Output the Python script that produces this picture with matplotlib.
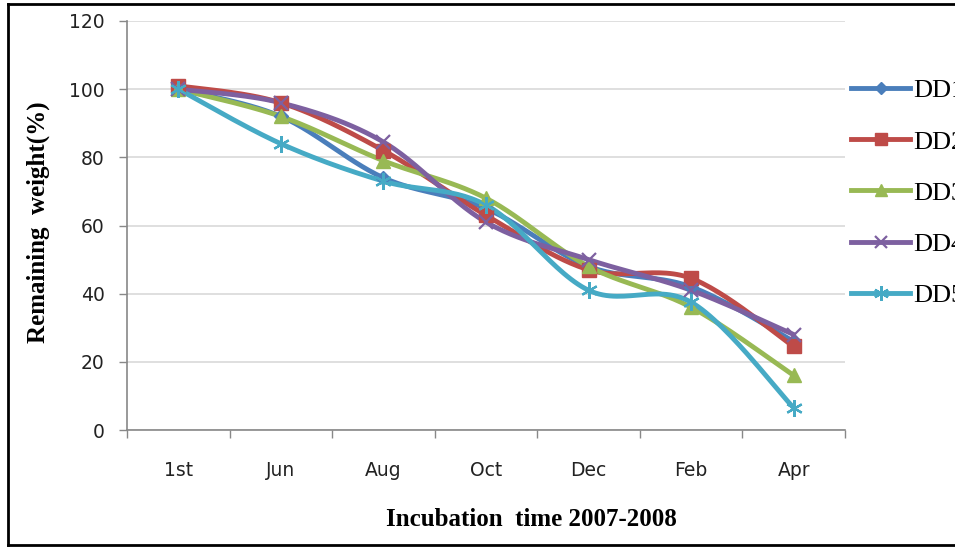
import numpy as np
import matplotlib
matplotlib.use("Agg")
import matplotlib.pyplot as plt
from matplotlib.lines import Line2D

months = ["1st", "Jun", "Aug", "Oct", "Dec", "Feb", "Apr"]
dd1 = [100, 92, 74, 65, 48, 42, 26]
dd2 = [101, 96, 82, 63, 47, 44.5, 24.5]
dd3 = [100, 92, 79, 68, 48, 36, 16]
dd4 = [100, 96, 84.5, 61, 50, 41, 28]
dd5 = [100, 84, 73, 66, 41, 37.5, 6.5]
series_names = ["DD1", "DD2", "DD3", "DD4", "DD5"]
y_ticks = [0, 20, 40, 60, 80, 100, 120]

colors = ["#4A7EBB", "#BE4B48", "#98B954", "#7D60A0", "#46AAC5"]
markers = ["D", "s", "^", "x", (6, 2, 0)]
msizes = [7, 10, 10, 10, 12]


def smooth(xs, ys, n=30):
    """Catmull-Rom style smoothing via cubic Bezier segments."""
    xs = np.asarray(xs, float)
    ys = np.asarray(ys, float)
    px = np.concatenate([[xs[0]], xs, [xs[-1]]])
    py = np.concatenate([[ys[0]], ys, [ys[-1]]])
    outx, outy = [], []
    t = np.linspace(0, 1, n)
    for i in range(1, len(px) - 2):
        p0 = np.array([px[i], py[i]])
        p3 = np.array([px[i + 1], py[i + 1]])
        c1 = p0 + (np.array([px[i + 1], py[i + 1]]) - np.array([px[i - 1], py[i - 1]])) / 6
        c2 = p3 - (np.array([px[i + 2], py[i + 2]]) - np.array([px[i], py[i]])) / 6
        b = ((1 - t) ** 3)[:, None] * p0 + (3 * (1 - t) ** 2 * t)[:, None] * c1 \
            + (3 * (1 - t) * t ** 2)[:, None] * c2 + (t ** 3)[:, None] * p3
        outx.extend(b[:, 0])
        outy.extend(b[:, 1])
    return np.array(outx), np.array(outy)


fig = plt.figure(figsize=(9.55, 5.47), dpi=100)
ax = fig.add_axes([127 / 955, 1 - 430 / 547, (845 - 127) / 955, (430 - 21) / 547])

x = np.arange(len(months))
handles = []
for vals, c, m, ms, name in zip([dd1, dd2, dd3, dd4, dd5], colors, markers, msizes, series_names):
    sx, sy = smooth(x, vals)
    ax.plot(sx, sy, color=c, lw=3.5, solid_capstyle="round", zorder=3)
    mew = 1.6 if m in ("x", (6, 2, 0)) else 1
    ax.plot(x, vals, linestyle="none", marker=m, markersize=ms, color=c,
            markeredgecolor=c, markeredgewidth=mew, zorder=4)
    handles.append(Line2D([], [], color=c, lw=3.5, marker=m, markersize=ms * 0.9,
                          markeredgecolor=c, markeredgewidth=mew, label=name))

ax.set_xlim(-0.5, len(months) - 0.5)
ax.set_ylim(0, 120)
ax.set_yticks(y_ticks)
ax.set_xticks(x)
ax.set_xticklabels(months)
ax.set_xticks(np.arange(-0.5, len(months)), minor=True)
ax.tick_params(axis="x", which="major", length=0, pad=22, labelsize=13.5)
ax.tick_params(axis="x", which="minor", length=6, direction="out", color="#888888", width=1)
ax.tick_params(axis="y", length=6, direction="out", color="#888888", width=1, labelsize=13.5, pad=10)
for lab in ax.get_xticklabels() + ax.get_yticklabels():
    lab.set_fontfamily(["DejaVu Sans"])
    lab.set_color("#222222")

ax.yaxis.grid(True, color="#d9d9d9", lw=1.2)
ax.set_axisbelow(True)
for side in ("top", "right"):
    ax.spines[side].set_visible(False)
for side in ("left", "bottom"):
    ax.spines[side].set_color("#888888")
    ax.spines[side].set_linewidth(1.2)

serif = ["Liberation Serif", "DejaVu Serif"]
fig.text(38 / 955, 1 - 222 / 547, "Remaining  weight(%)", fontsize=18, fontweight="bold",
         family=serif, rotation=90, ha="center", va="center")
fig.text(531 / 955, 1 - 520 / 547, "Incubation  time 2007-2008", fontsize=18,
         fontweight="bold", family=serif, ha="center", va="center")

fig.legend(handles=handles, loc="center left", bbox_to_anchor=(851 / 955, 1 - 193 / 547),
           bbox_transform=fig.transFigure, frameon=False, prop={"family": serif, "size": 19},
           handlelength=2.25, handletextpad=0.1, labelspacing=1.05, borderpad=0, borderaxespad=0)

# frame around the figure (left, top and bottom edges)
for xs, ys in [((8, 8), (4, 545)), ((8, 955), (4, 4)), ((8, 955), (545, 545))]:
    fig.add_artist(Line2D([v / 955 for v in xs], [1 - v / 547 for v in ys],
                          transform=fig.transFigure, color="black", lw=2))

fig.savefig("out.png", dpi=100)
